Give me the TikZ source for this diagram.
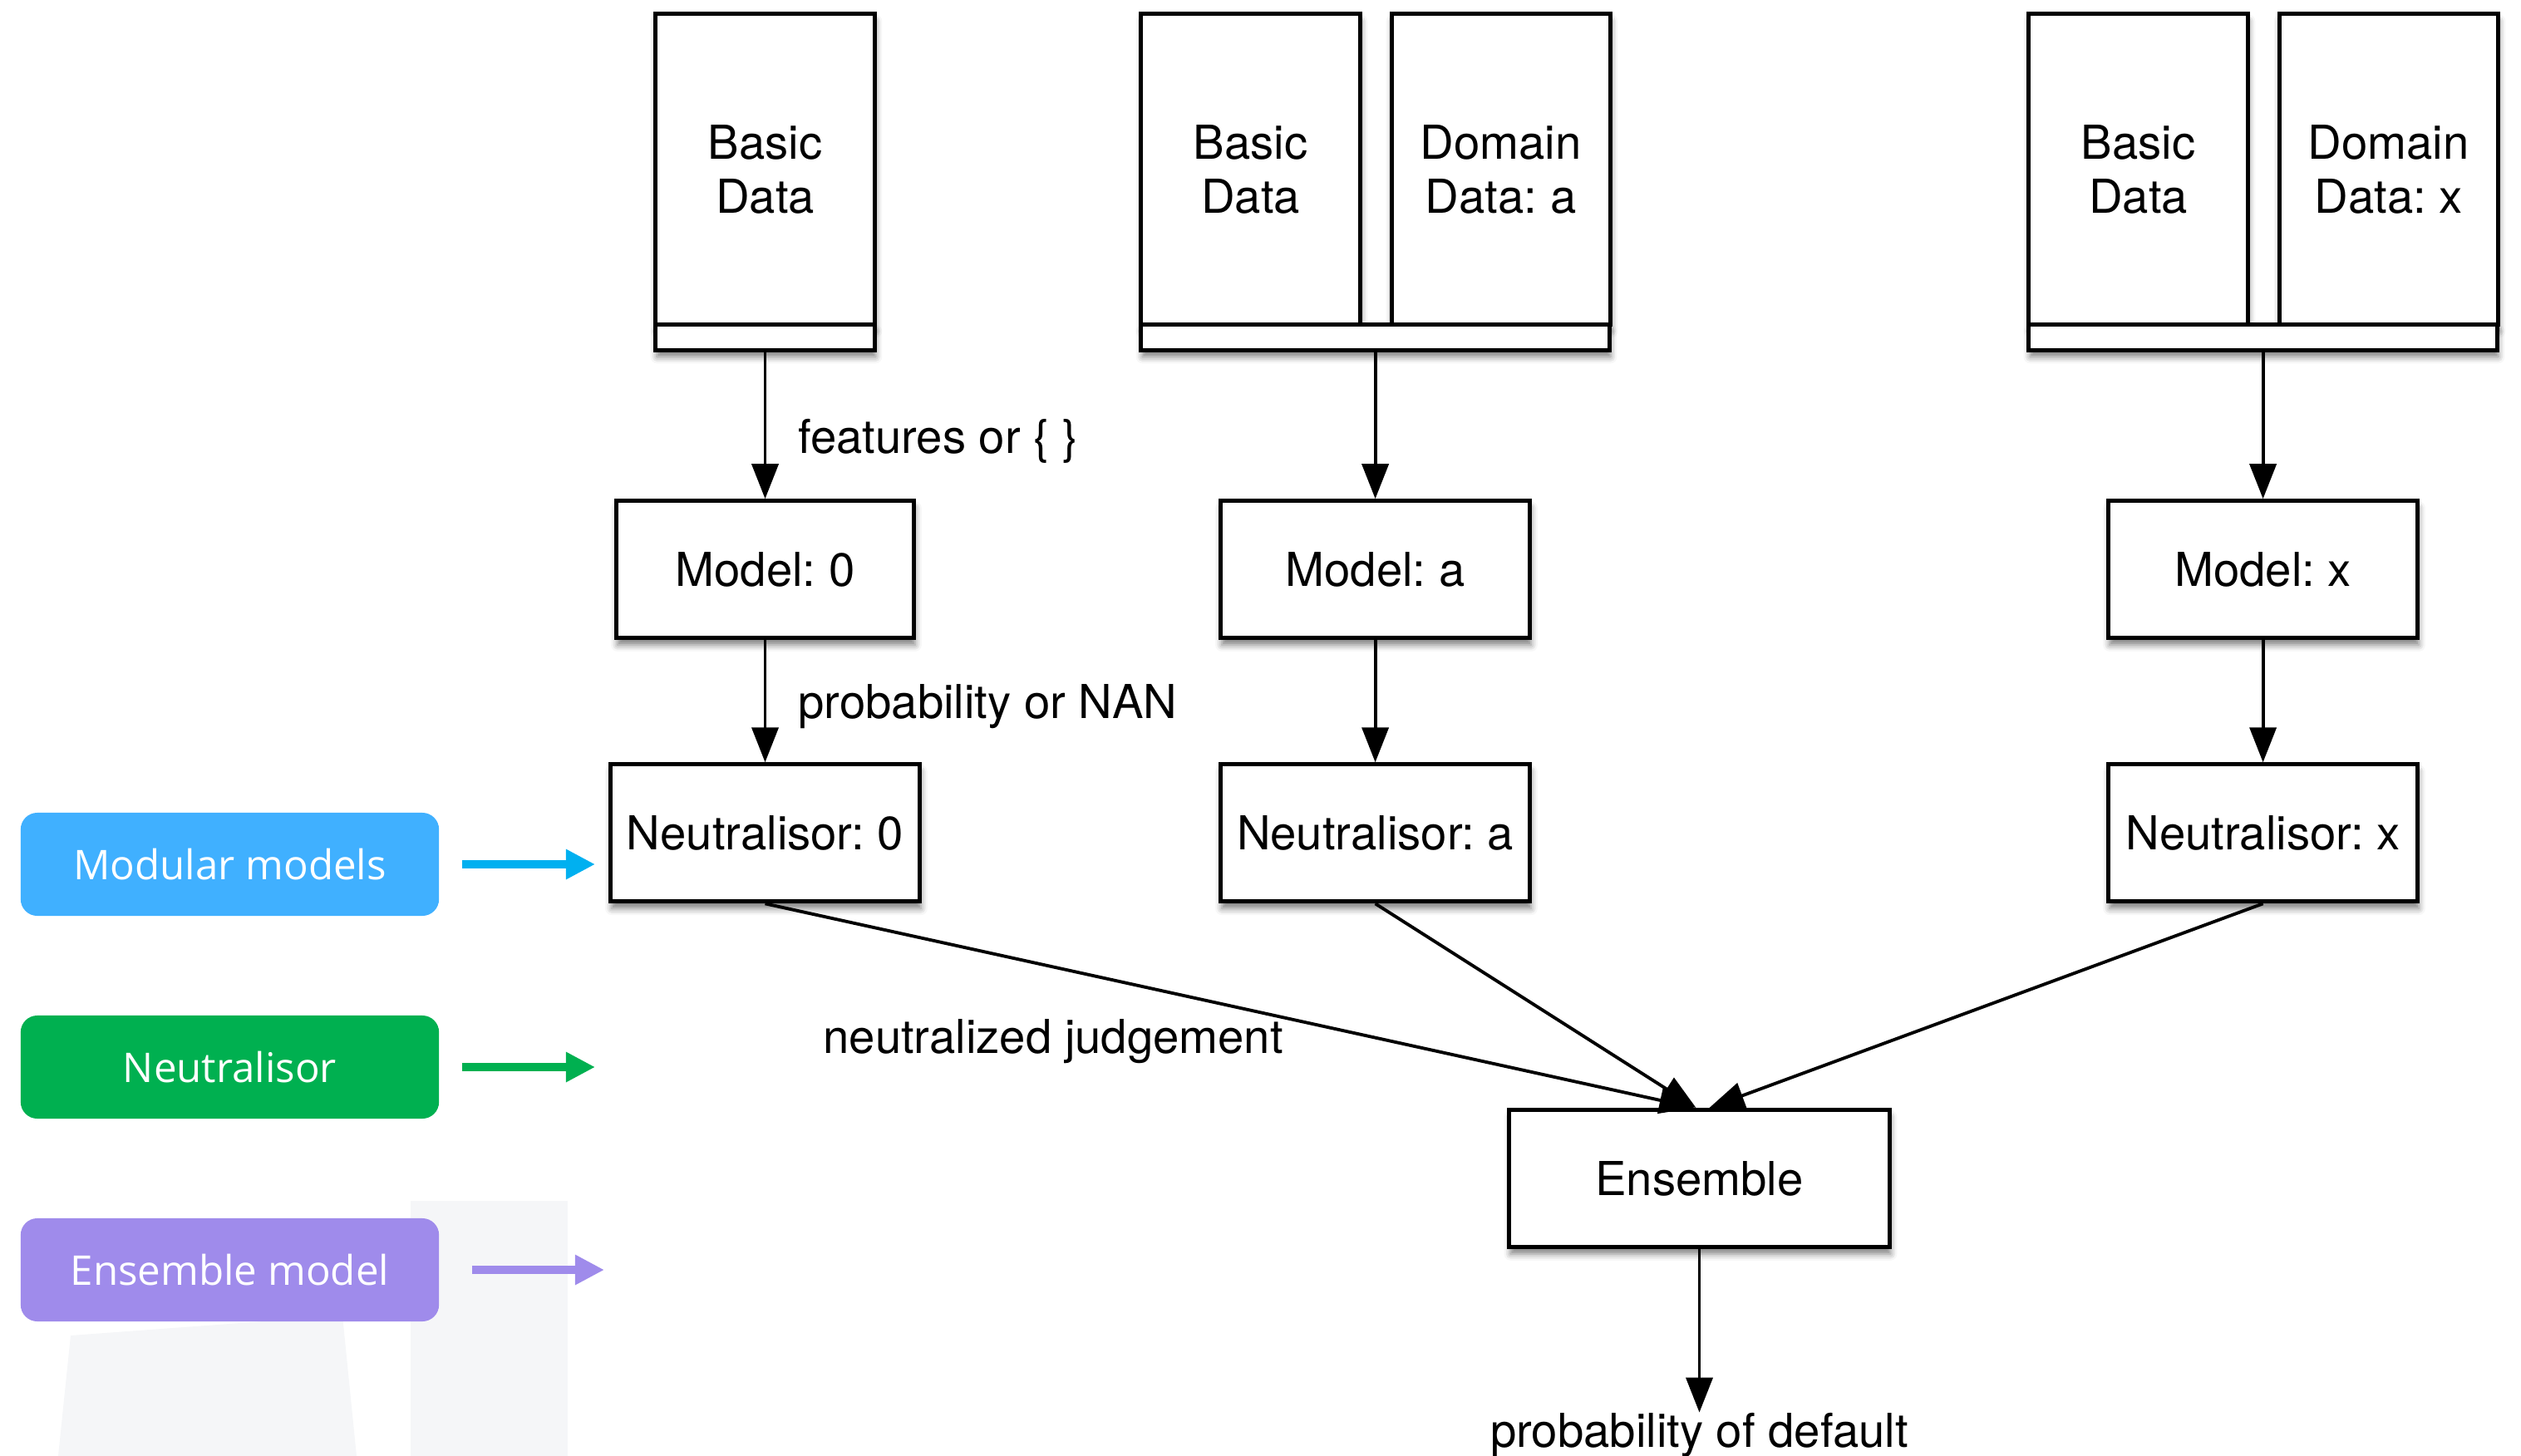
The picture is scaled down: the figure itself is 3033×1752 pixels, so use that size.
\documentclass[tikz,border=0pt]{standalone}
\usepackage{fontspec}
\setmainfont{TeX Gyre Heros}
\newfontfamily\tagfont{Open Sans}
\usepackage{xcolor}
\usepackage{tikz}
\usetikzlibrary{arrows.meta, positioning, shadows.blur}
\definecolor{modblue}{RGB}{64, 176, 255}
\definecolor{modarrow}{RGB}{0, 176, 240}
\definecolor{neutgreen}{RGB}{0, 176, 80}
\definecolor{enspurple}{RGB}{159, 139, 235}
\definecolor{wmgray}{RGB}{245, 246, 248}
\frenchspacing

\tikzset{
    box/.style={draw=black, line width=1.4pt, fill=white, align=center,
        minimum width=3.72cm, minimum height=1.65cm, font=\fontsize{16}{18.5}\selectfont,
        blur shadow={shadow xshift=0.4pt, shadow yshift=-2.4pt, shadow blur radius=2.2pt, shadow opacity=50}},
    databox/.style={box, minimum width=2.63cm, minimum height=3.73cm},
    strip/.style={box, minimum height=0.31cm, inner sep=0pt},
    flow/.style={-{Triangle[length=0.42cm, width=0.32cm]}, line width=1.1pt},
    lbl/.style={font=\fontsize{16}{18.5}\selectfont, inner sep=0pt},
    tag/.style={rounded corners=0.2cm, minimum width=5.03cm, minimum height=1.24cm,
        text=white, font=\tagfont\fontsize{14}{17}\selectfont},
    tagarrow/.style={-{Triangle[length=0.35cm, width=0.34cm]}, line width=3pt},
}

\begin{document}
\begin{tikzpicture}[x=0.01cm, y=-0.01cm]
    \useasboundingbox (0,0) rectangle (3033,1752);

    % faint watermark
    \fill[wmgray] (494,1445) rectangle (683,1752);
    \fill[wmgray] (70,1752) -- (85,1607) -- (412,1583) -- (429,1752) -- cycle;

    % data
    \node[databox] (bd0) at (920.5,203.5) {Basic\\Data};
    \node[strip, minimum width=2.63cm, below=-1.4pt of bd0] (st0) {};

    \node[databox] (bda) at (1504.5,203.5) {Basic\\Data};
    \node[databox, right=0.33cm of bda] (dda) {Domain\\Data: a};
    \node[strip, minimum width=5.63cm, below right=-1.4pt and 0pt of bda.south west] (sta) {};

    \node[databox] (bdx) at (2572.5,203.5) {Basic\\Data};
    \node[databox, right=0.33cm of bdx] (ddx) {Domain\\Data: x};
    \node[strip, minimum width=5.63cm, below right=-1.4pt and 0pt of bdx.south west] (stx) {};

    % models and neutralisors
    \node[box, minimum width=3.58cm, below=1.765cm of st0] (m0) {Model: 0};
    \node[box, below=1.765cm of sta] (ma) {Model: a};
    \node[box, below=1.765cm of stx] (mx) {Model: x};
    \node[box, below=1.47cm of m0] (n0) {Neutralisor: 0};
    \node[box, below=1.47cm of ma] (na) {Neutralisor: a};
    \node[box, below=1.47cm of mx] (nx) {Neutralisor: x};

    \node[box, minimum width=4.57cm] (ens) at (2044.5,1418) {Ensemble};
    \node[lbl] (pd) at (2044.5,1727) {probability of default};

    \draw[flow] (st0) -- (m0) node[lbl, pos=0.61, right=0.38cm] {features or \{ \}};
    \draw[flow] (sta) -- (ma);
    \draw[flow] (stx) -- (mx);
    \draw[flow] (m0) -- (n0) node[lbl, pos=0.54, right=0.38cm] {probability or NAN};
    \draw[flow] (ma) -- (na);
    \draw[flow] (mx) -- (nx);

    \draw[flow] (n0.south) -- ([xshift=-0.06cm]ens.north)
        node[lbl, pos=0.31, yshift=-0.9cm] {neutralized judgement};
    \draw[flow] (na.south) -- ([xshift=-0.04cm]ens.north);
    \draw[flow] (nx.south) -- ([xshift=0.12cm]ens.north);
    \draw[flow] (ens) -- (pd.north);

    % legend tags
    \node[tag, fill=modblue] (tmod) at (276.5,1040) {Modular models};
    \node[tag, fill=neutgreen] (tneu) at (276.5,1284) {Neutralisor};
    \node[tag, fill=enspurple] (tens) at (276.5,1528) {Ensemble model};
    \coordinate (emod) at (716,1040);
    \coordinate (eneu) at (716,1284);
    \coordinate (eens) at (727,1528);
    \draw[tagarrow, draw=modarrow, shorten <=0.27cm] (tmod) -- (emod);
    \draw[tagarrow, draw=neutgreen, shorten <=0.27cm] (tneu) -- (eneu);
    \draw[tagarrow, draw=enspurple, shorten <=0.39cm] (tens) -- (eens);
\end{tikzpicture}
\end{document}
